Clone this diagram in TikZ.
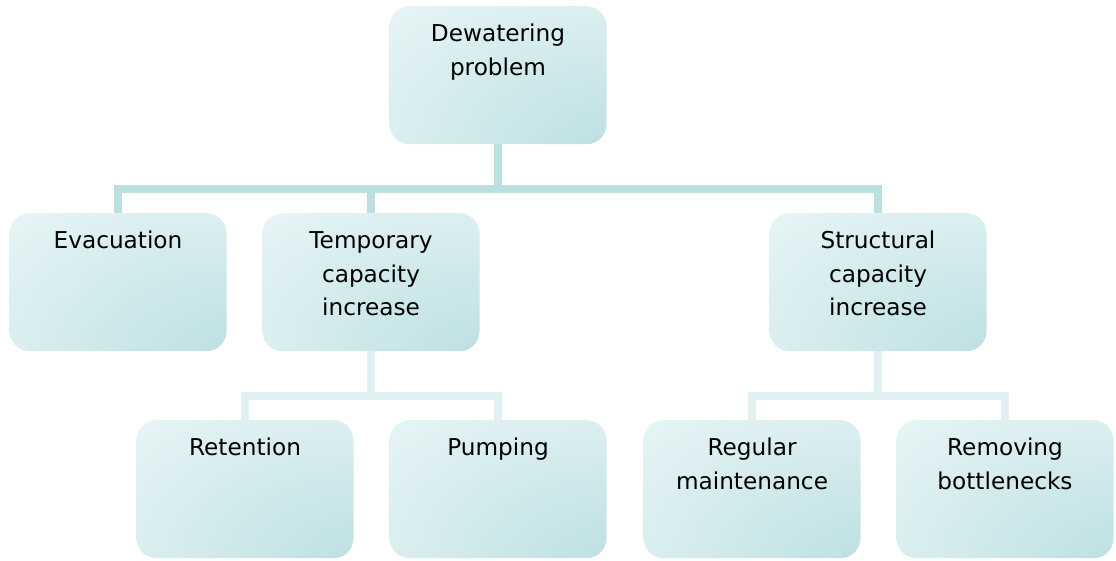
\documentclass[tikz,border=0pt]{standalone}
\usepackage{fontspec}
\setmainfont{DejaVu Sans}
\definecolor{boxlight}{HTML}{E4F3F4}
\definecolor{boxdark}{HTML}{BADEE1}
\definecolor{cA}{HTML}{BCDFE2}
\definecolor{cB}{HTML}{E1F1F2}
\pgfdeclareradialshading{boxshade}{\pgfpoint{38bp}{-40bp}}{color(0bp)=(boxdark); color(8bp)=(boxdark); color(55bp)=(boxlight); color(100bp)=(boxlight)}
\tikzset{
  box/.style={shade, shading=boxshade, rounded corners=20pt, minimum width=217pt, minimum height=138pt, inner sep=0pt, anchor=north},
  lbl/.style={anchor=base, inner sep=0pt, font=\fontsize{23.2}{33.5}\selectfont},
  conA/.style={draw=cA, line width=8pt},
  conB/.style={draw=cB, line width=8pt},
}
\begin{document}
\begin{tikzpicture}[x=1pt,y=-1pt]
\useasboundingbox (0,0) rectangle (1116,560);
% boxes
\node[box] (top) at (498,6) {};
\node[box] (evac) at (118,213) {};
\node[box] (temp) at (371,213) {};
\node[box] (struct) at (878,213) {};
\node[box] (ret) at (245,420) {};
\node[box] (pump) at (498,420) {};
\node[box] (reg) at (752,420) {};
\node[box] (rem) at (1005,420) {};
% labels
\node[lbl] (topt) at ([yshift=-35.5pt]top.north) {\begin{tabular}[t]{@{}c@{}}Dewatering\\problem\end{tabular}};
\node[lbl] (evact) at ([yshift=-35.5pt]evac.north) {\begin{tabular}[t]{@{}c@{}}Evacuation\end{tabular}};
\node[lbl] (tempt) at ([yshift=-35.5pt]temp.north) {\begin{tabular}[t]{@{}c@{}}Temporary\\capacity\\increase\end{tabular}};
\node[lbl] (structt) at ([yshift=-35.5pt]struct.north) {\begin{tabular}[t]{@{}c@{}}Structural\\capacity\\increase\end{tabular}};
\node[lbl] (rett) at ([yshift=-35.5pt]ret.north) {\begin{tabular}[t]{@{}c@{}}Retention\end{tabular}};
\node[lbl] (pumpt) at ([yshift=-35.5pt]pump.north) {\begin{tabular}[t]{@{}c@{}}Pumping\end{tabular}};
\node[lbl] (regt) at ([yshift=-35.5pt]reg.north) {\begin{tabular}[t]{@{}c@{}}Regular\\maintenance\end{tabular}};
\node[lbl] (remt) at ([yshift=-35.5pt]rem.north) {\begin{tabular}[t]{@{}c@{}}Removing\\bottlenecks\end{tabular}};
% connectors
\coordinate (j1) at (498,189);
\coordinate (j2) at (371,396);
\coordinate (j3) at (878,396);
\draw[conA] (top.south) -- (j1);
\draw[conA] (evac.north) |- (j1);
\draw[conA] (struct.north) |- (j1);
\draw[conA] (temp.north) -- (temp.north |- j1);
\draw[conB] (temp.south) -- (j2);
\draw[conB] (ret.north) |- (j2);
\draw[conB] (pump.north) |- (j2);
\draw[conB] (struct.south) -- (j3);
\draw[conB] (reg.north) |- (j3);
\draw[conB] (rem.north) |- (j3);
\end{tikzpicture}
\end{document}
